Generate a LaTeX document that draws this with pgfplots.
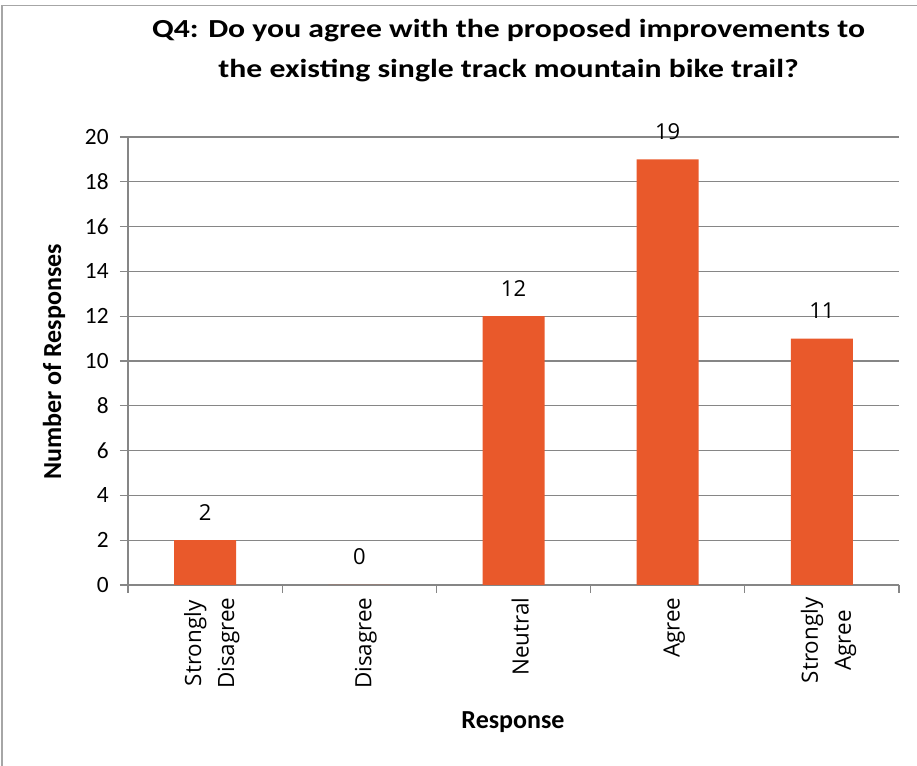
\documentclass[border=0pt]{standalone}
\usepackage{pgfplots}
\pgfplotsset{compat=1.18}
\usepackage{fontspec}
\setmainfont{Carlito}
\newfontfamily\os{Open Sans}
\definecolor{barorange}{RGB}{233,89,43}
\definecolor{axgray}{RGB}{134,134,134}
\definecolor{framegray}{RGB}{166,166,166}
\begin{document}
\begin{tikzpicture}
\begin{axis}[
  at={(96pt,135.75pt)}, anchor=south west,
  scale only axis, width=578.25pt, height=336pt,
  xmin=-0.5, xmax=4.5, ymin=0, ymax=20,
  enlargelimits=false,
  axis x line*=bottom, axis y line*=left,
  axis line style={-, draw=axgray, line width=1pt},
  ymajorgrids, grid style={draw=axgray, line width=1pt},
  ytick={0,2,...,20},
  xtick={0,1,2,3,4},
  xticklabels={{Strongly\\Disagree},Disagree,Neutral,Agree,{Strongly\\Agree}},
  minor xtick={-0.5,0.5,1.5,2.5,3.5,4.5},
  tick align=outside,
  major tick length=6pt, minor tick length=6pt,
  tick style={draw=axgray, line width=1pt},
  major x tick style={draw=none},
  /pgf/number format/assume math mode=true,
  yticklabel style={font=\fontsize{17.5}{20}\selectfont, anchor=east, xshift=-5pt},
  xticklabel style={font=\os\fontsize{16.8}{24.75}\selectfont, rotate=90, anchor=east, align=center, yshift=-5pt},
  bar width=46.5pt,
  nodes near coords,
  every node near coord/.append style={font=\os\fontsize{16.5}{20}\selectfont, anchor=base, yshift=15pt, inner sep=0pt, text=black},
]
\addplot[ybar, fill=barorange, draw=none] coordinates {(0,2) (1,0) (2,12) (3,19) (4,11)};
\end{axis}
\draw[framegray, line width=1.2pt] (1.7pt,0) -- (1.7pt,570.3pt) -- (687.75pt,570.3pt);
\node[anchor=base, xscale=1.22, font=\bfseries\fontsize{19.5}{22}\selectfont] at (381.4pt,546pt) {Q4: Do you agree with the proposed improvements to};
\node[anchor=base, xscale=1.22, font=\bfseries\fontsize{19.5}{22}\selectfont] at (381.4pt,516pt) {the existing single track mountain bike trail?};
\node[rotate=90, font=\bfseries\fontsize{19.5}{22}\selectfont] at (40.5pt,303pt) {Number of Responses};
\node[anchor=base, font=\bfseries\fontsize{19.5}{22}\selectfont] at (384.75pt,27.75pt) {Response};
\pgfresetboundingbox
\useasboundingbox (0,0) rectangle (687.75pt,574.5pt);
\end{tikzpicture}
\end{document}
